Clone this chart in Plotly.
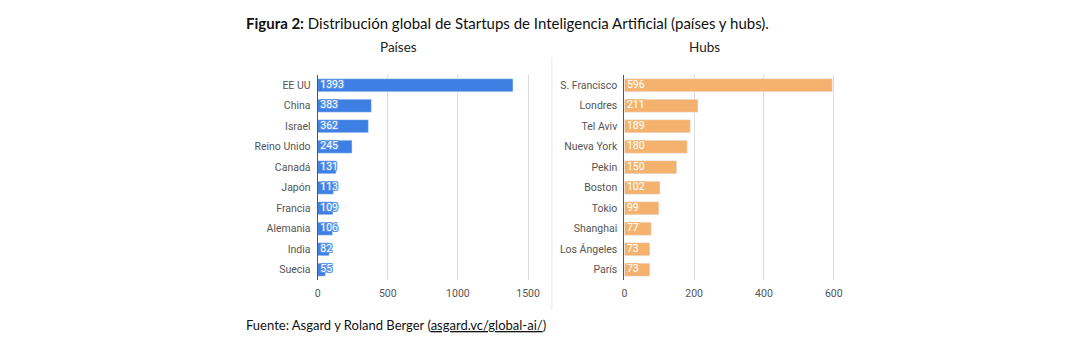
import plotly.graph_objects as go

W, H = 1080, 350

paises = ["EE UU", "China", "Israel", "Reino Unido", "Canadá", "Japón", "Francia", "Alemania", "India", "Suecia"]
paises_val = [1393, 383, 362, 245, 131, 113, 109, 106, 82, 55]

hubs = ["S. Francisco", "Londres", "Tel Aviv", "Nueva York", "Pekin", "Boston", "Tokio", "Shanghai", "Los Ángeles", "París"]
hubs_val = [596, 211, 189, 180, 150, 102, 99, 77, 73, 73]

left_ticks = [0, 500, 1000, 1500]
right_ticks = [0, 200, 400, 600]

BLUE = "#3d7fe2"
ORANGE = "#f5b26e"


def halo(c):
    return (f"1px 0 0 {c}, -1px 0 0 {c}, 0 1px 0 {c}, 0 -1px 0 {c}, "
            f"1px 1px 0 {c}, -1px -1px 0 {c}, 1px -1px 0 {c}, -1px 1px 0 {c}")


fig = go.Figure()

fig.add_trace(go.Bar(x=paises_val, y=paises, orientation="h", marker_color=BLUE,
                     xaxis="x", yaxis="y", hoverinfo="x+y", showlegend=False))
fig.add_trace(go.Scatter(x=[0] * len(paises), y=paises, text=[" " + str(v) for v in paises_val],
                         mode="text", textposition="middle right", cliponaxis=False,
                         textfont=dict(family="Roboto", size=10.5, color="white", shadow=halo("#5d95ea")),
                         xaxis="x", yaxis="y", showlegend=False, hoverinfo="skip"))
fig.add_trace(go.Bar(x=hubs_val, y=hubs, orientation="h", marker_color=ORANGE,
                     xaxis="x2", yaxis="y2", hoverinfo="x+y", showlegend=False))
fig.add_trace(go.Scatter(x=[0] * len(hubs), y=hubs, text=[" " + str(v) for v in hubs_val],
                         mode="text", textposition="middle right", cliponaxis=False,
                         textfont=dict(family="Roboto", size=10.5, color="white", shadow=halo("#f3b877")),
                         xaxis="x2", yaxis="y2", showlegend=False, hoverinfo="skip"))

ydom = [1 - 280 / H, 1 - 75 / H]
tickfont = dict(family="Roboto", size=10.5, color="#555555")

fig.update_layout(
    width=W, height=H,
    margin=dict(l=0, r=0, t=0, b=0),
    paper_bgcolor="white", plot_bgcolor="white",
    bargap=0.36,
    xaxis=dict(domain=[317 / W, 536 / W], range=[0, 1550], tickvals=left_ticks,
               showgrid=True, gridcolor="#dcdcdc", gridwidth=1, zeroline=False,
               tickfont=tickfont, ticks="", anchor="y", fixedrange=True, ticklabelstandoff=5),
    yaxis=dict(domain=ydom, categoryorder="array", categoryarray=paises[::-1],
               showline=True, linecolor="#555555", linewidth=1, ticks="",
               tickfont=tickfont, anchor="x", fixedrange=True, ticklabelstandoff=4),
    xaxis2=dict(domain=[626 / W, 844 / W], range=[0, 620], tickvals=right_ticks,
                showgrid=True, gridcolor="#dcdcdc", gridwidth=1, zeroline=False,
                tickfont=tickfont, ticks="", anchor="y2", fixedrange=True, ticklabelstandoff=5),
    yaxis2=dict(domain=ydom, categoryorder="array", categoryarray=hubs[::-1],
                showline=True, linecolor="#555555", linewidth=1, ticks="",
                tickfont=tickfont, anchor="x2", fixedrange=True, ticklabelstandoff=4),
    shapes=[dict(type="line", xref="paper", yref="paper", x0=553 / W, x1=553 / W,
                 y0=1 - 310 / H, y1=1 - 57 / H, line=dict(color="#e8e8e8", width=1))],
    annotations=[
        dict(text="<b>Figura 2:</b> Distribución global de Startups de Inteligencia Artificial (países y hubs).",
             x=243 / W, y=1 - 23 / H, xref="paper", yref="paper", xanchor="left", yanchor="middle",
             showarrow=False, font=dict(family="Lato", size=15, color="#111111")),
        dict(text="Países", x=398 / W, y=1 - 47 / H, xref="paper", yref="paper",
             xanchor="center", yanchor="middle", showarrow=False,
             font=dict(family="Lato", size=13.5, color="#222222")),
        dict(text="Hubs", x=707 / W, y=1 - 47 / H, xref="paper", yref="paper",
             xanchor="center", yanchor="middle", showarrow=False,
             font=dict(family="Lato", size=13.5, color="#222222")),
        dict(text="Fuente: Asgard y Roland Berger (<u>asgard.vc/global-ai/</u>)",
             x=243 / W, y=1 - 325 / H, xref="paper", yref="paper", xanchor="left", yanchor="middle",
             showarrow=False, font=dict(family="Lato", size=13, color="#111111")),
    ],
)

fig.write_html("out.html")
